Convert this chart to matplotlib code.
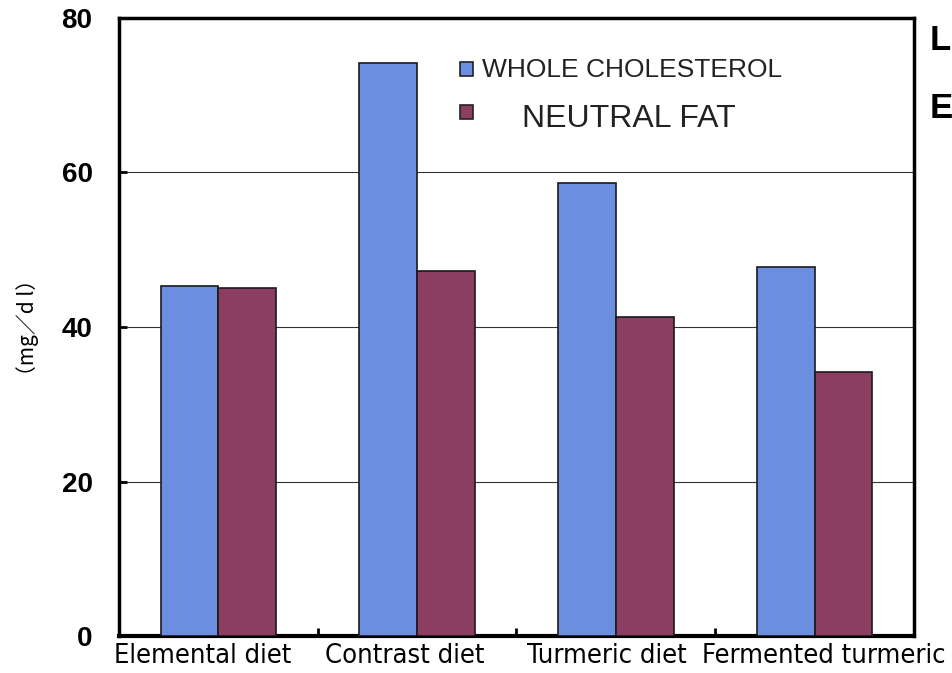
import numpy as np
import matplotlib.pyplot as plt
from matplotlib.patches import Rectangle
from matplotlib.transforms import ScaledTranslation

categories = ["Elemental diet", "Contrast diet", "Turmeric diet", "Fermented turmeric"]
whole_cholesterol = [45.3, 74.2, 58.6, 47.8]
neutral_fat = [45.0, 47.2, 41.3, 34.2]
yticks = [0, 20, 40, 60, 80]

blue = "#6b8ee0"
maroon = "#8c3d62"

fig = plt.figure(figsize=(9.53, 6.73), dpi=100)
ax = fig.add_axes([119 / 953, 1 - 636 / 673, (914 - 119) / 953, (636 - 18) / 673])

x = np.arange(len(categories))
w = 0.29
ax.bar(x - w / 2, whole_cholesterol, w, color=blue, edgecolor="#1a1a1a", linewidth=1.2, zorder=3)
ax.bar(x + w / 2, neutral_fat, w, color=maroon, edgecolor="#1a1a1a", linewidth=1.2, zorder=3)

ax.set_xlim(-0.5, len(categories) - 0.5)
ax.set_ylim(0, 80)
ax.set_yticks(yticks)
ax.set_yticklabels([str(v) for v in yticks], fontsize=20, fontweight="bold", family="Liberation Sans")
for v in yticks[1:-1]:
    ax.axhline(v, color="#333333", linewidth=0.8, zorder=1)

# category labels under groups, ticks at group boundaries
ax.set_xticks(x + 0.5, minor=False)
ax.set_xticklabels([])
ax.tick_params(axis="x", direction="in", length=6, width=2)
ax.tick_params(axis="y", direction="in", length=6, width=2, pad=19)
ax.set_xticks(x, minor=True)
labels = ax.set_xticklabels(categories, minor=True, fontsize=19.5, family="DejaVu Sans", stretch="condensed")
ax.tick_params(axis="x", which="minor", length=0, pad=5)
# labels in the original sit slightly off-centre
for lab, dx in zip(labels, [-16, -12, -9, 9]):
    lab.set_transform(lab.get_transform() + ScaledTranslation(dx / 100, 0, fig.dpi_scale_trans))

for s in ax.spines.values():
    s.set_linewidth(2.5)
ax.spines["bottom"].set_linewidth(3)

ax.set_ylabel("（mg／d l）", family=["Noto Sans CJK JP", "DejaVu Sans"], fontsize=15, labelpad=16)

# legend drawn by hand
for y0, c in [(62, blue), (105, maroon)]:
    fig.patches.append(Rectangle((460 / 953, 1 - (y0 + 14) / 673), 13 / 953, 14 / 673,
                                 transform=fig.transFigure, facecolor=c, edgecolor="#222222", linewidth=1.2))
fig.text(482 / 953, 1 - 70 / 673, "WHOLE CHOLESTEROL", fontsize=19, family="Liberation Sans", va="center", color="#222222")
fig.text(522 / 953, 1 - 119 / 673, "NEUTRAL FAT", fontsize=23, family="Liberation Sans", va="center", color="#222222")

fig.text(930 / 953, 1 - 40 / 673, "L", fontsize=25, fontweight="bold", family="Liberation Sans", va="center")
fig.text(930 / 953, 1 - 108 / 673, "E", fontsize=25, fontweight="bold", family="Liberation Sans", va="center")

fig.savefig("out.png", dpi=100)
